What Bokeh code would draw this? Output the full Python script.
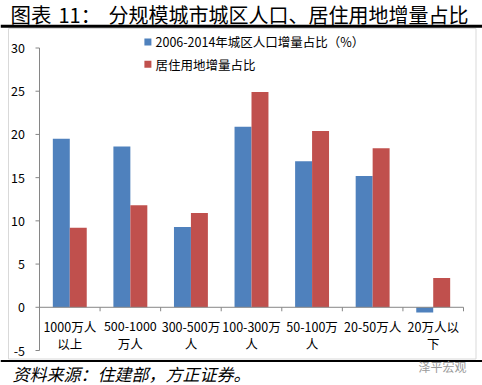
from bokeh.plotting import figure
from bokeh.models import Range1d, ColumnDataSource
from bokeh.core.properties import value
from bokeh.embed import file_html
from bokeh.resources import INLINE

# ---------------- data ----------------
categories = ["1000万人以上", "500-1000万人", "300-500万人", "100-300万人",
              "50-100万人", "20-50万人", "20万人以下"]
label_line1 = ["1000万人", "500-1000", "300-500万", "100-300万", "50-100万", "20-50万人", "20万人以"]
label_line2 = ["以上", "万人", "人", "人", "人", "", "下"]
population_share = [19.5, 18.6, 9.3, 20.9, 16.9, 15.2, -0.6]
residential_land_share = [9.2, 11.8, 10.9, 24.9, 20.4, 18.4, 3.4]
y_ticks = [-5, 0, 5, 10, 15, 20, 25, 30]
series_names = ["2006-2014年城区人口增量占比（%）", "居住用地增量占比"]
title_prefix = "图表"
title_number = "11："
title_text = "分规模城市城区人口、居住用地增量占比"
source_text = "资料来源：住建部，方正证券。"
watermark_text = "泽平宏观"

# ---------------- layout (canvas pixels) ----------------
W, H = 482, 385
N = len(categories)
PL, PR = 39, 463            # plot area left / right
Y_MIN, Y_MAX = min(y_ticks), max(y_ticks)
PY_TOP, PY_BOT = 47.5, 350  # canvas y of Y_MAX and Y_MIN
CW = (PR - PL) / N
PPU = (PY_BOT - PY_TOP) / (Y_MAX - Y_MIN)

def dx(cx):  # canvas x -> data x (category units)
    return (cx - PL) / CW

def dy(cy):  # canvas y (top-down) -> data y
    return Y_MAX - (cy - PY_TOP) / PPU

BLUE = "#4F81BD"
RED = "#C0504D"
AXIS = "#868686"
FONT = "Noto Sans CJK SC"

p = figure(width=W, height=H, x_range=Range1d(dx(0), dx(W)), y_range=Range1d(dy(H), dy(0)),
           output_backend="svg", toolbar_location=None,
           x_axis_location=None, y_axis_location=None, min_border=0)
p.outline_line_color = None
p.grid.visible = False
p.background_fill_color = "white"
p.border_fill_color = "white"

centers = [i + 0.5 for i in range(N)]
bar_w = 0.28
src = ColumnDataSource(dict(
    xb=[c - bar_w / 2 for c in centers], xr=[c + bar_w / 2 for c in centers],
    xc=centers, pop=population_share, land=residential_land_share,
    l1=label_line1, l2=label_line2, zero=[0] * N))

# frame box of the chart
p.quad(left=[dx(8)], right=[dx(475.5)], top=[dy(28)], bottom=[dy(358.5)],
       fill_color=None, line_color="#D9D9D9", line_width=1)

# bars
p.vbar(x="xb", top="pop", bottom=0, width=bar_w, source=src, fill_color=BLUE, line_color=None)
p.vbar(x="xr", top="land", bottom=0, width=bar_w, source=src, fill_color=RED, line_color=None)

# y axis
tick_len = dx(PL) - dx(PL - 4)
p.segment(x0=[0], y0=[Y_MIN], x1=[0], y1=[Y_MAX], line_color=AXIS, line_width=1)
p.segment(x0=[-tick_len] * len(y_ticks), y0=y_ticks, x1=[0] * len(y_ticks), y1=y_ticks,
          line_color=AXIS, line_width=1)
p.text(x=[dx(24.5)] * len(y_ticks), y=y_ticks, text=[str(t) for t in y_ticks],
       text_align="right", text_baseline="middle", text_font=value(FONT),
       text_font_size="12.5px", text_color="black")

# category axis at y = 0
p.segment(x0=[0], y0=[0], x1=[N], y1=[0], line_color=AXIS, line_width=1)
bounds = [i + 1 for i in range(N)]
p.segment(x0=bounds, y0=[0] * N, x1=bounds, y1=[-4 / PPU] * N, line_color=AXIS, line_width=1)
p.text(x="xc", y="zero", text="l1", source=src, y_offset=19, text_align="center",
       text_baseline="middle", text_font=value(FONT), text_font_size="12.5px", text_color="black")
p.text(x="xc", y="zero", text="l2", source=src, y_offset=36, text_align="center",
       text_baseline="middle", text_font=value(FONT), text_font_size="12.5px", text_color="black")

# legend
leg_y = [41.4, 63.8]
p.scatter(x=[dx(147.4)] * 2, y=[dy(v) for v in leg_y], marker="square", size=7,
          fill_color=[BLUE, RED], line_color=None)
p.text(x=[dx(155)] * 2, y=[dy(v) for v in leg_y], text=series_names, text_align="left",
       text_baseline="middle", text_font=value(FONT), text_font_size="12.5px", text_color="black")

# title and rules
TY = 13.8
p.text(x=[dx(10)], y=[dy(TY)], text=[title_prefix], text_align="left", text_baseline="middle",
       text_font=value(FONT), text_font_size="20.5px", text_color="black")
p.text(x=[dx(58)], y=[dy(TY)], text=[title_number], text_align="left", text_baseline="middle",
       text_font=value(FONT), text_font_size="20px", text_color="black")
p.text(x=[dx(108)], y=[dy(TY)], text=[title_text], text_align="left", text_baseline="middle",
       text_font=value(FONT), text_font_size="20px", text_color="black")
p.quad(left=[dx(0)], right=[dx(W)], top=[dy(24.2)], bottom=[dy(27.3)],
       fill_color="black", line_color=None)
p.quad(left=[dx(0)], right=[dx(W)], top=[dy(359.5)], bottom=[dy(361.5)],
       fill_color="black", line_color=None)

# source and watermark text
p.text(x=[dx(12)], y=[dy(372.5)], text=[source_text], text_align="left", text_baseline="middle",
       text_font=value(FONT), text_font_size="17px", text_font_style="italic", text_color="black")
p.text(x=[dx(418)], y=[dy(366)], text=[watermark_text], text_align="left",
       text_baseline="middle", text_font=value(FONT), text_font_size="12px", text_color="#9a9a9a")

open("out.html", "w").write(file_html(p, INLINE))
